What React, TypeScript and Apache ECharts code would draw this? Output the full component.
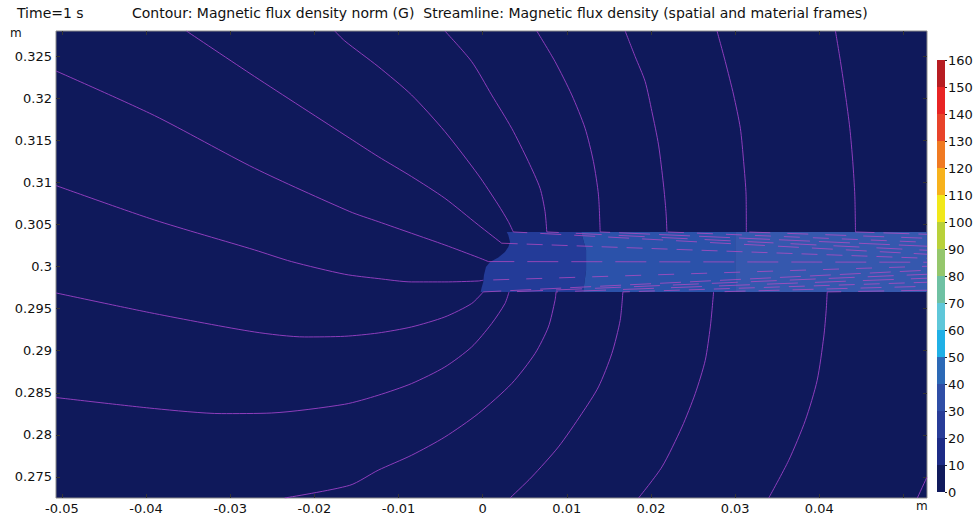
import React, { useEffect, useRef } from 'react';
import * as echarts from 'echarts';

// ---- axes ----
const X_MIN = -0.0507;
const X_MAX = 0.0528;
const Y_MIN = 0.2725;
const Y_MAX = 0.328;
const X_TICKS = [-0.05, -0.04, -0.03, -0.02, -0.01, 0, 0.01, 0.02, 0.03, 0.04, 0.05];
const X_TICK_LABELS = ['-0.05', '-0.04', '-0.03', '-0.02', '-0.01', '0', '0.01', '0.02', '0.03', '0.04', ''];
const Y_TICKS = [0.275, 0.28, 0.285, 0.29, 0.295, 0.3, 0.305, 0.31, 0.315, 0.32, 0.325];
const Y_TICK_LABELS = ['0.275', '0.28', '0.285', '0.29', '0.295', '0.3', '0.305', '0.31', '0.315', '0.32', '0.325'];

// ---- colour levels (G) ----
const LEVEL_BOUNDS = [0, 10, 20, 30, 40, 50, 60, 70, 80, 90, 100, 110, 120, 130, 140, 150, 160];
const LEVEL_COLORS = [
  '#101a5c', '#1d2b86', '#283c98', '#2f4ea6', '#2c69b6', '#20b0e6', '#5fc7d9', '#6fc1a3',
  '#95c76c', '#b9d13a', '#f1e81a', '#f7b21c', '#f07a22', '#e8432a', '#e82424', '#b71d22',
];

// ---- filled contour regions inside the bar (m) ----
const BAR_BOTTOM = 0.29699;
const BAR_TOP = 0.30412;
const TIP_OUTLINE = [
  [0.00286, 0.30412], [0.00305, 0.30373], [0.00325, 0.30293], [0.00305, 0.30234], [0.00265, 0.30174],
  [0.00186, 0.30108], [0.00087, 0.30055], [0.00039, 0.29996], [0.00015, 0.29897], [0.00007, 0.29818],
  [-0.00012, 0.29751], [-0.00024, 0.29699],
];
const BOUNDARY_AB = [[0.0117, 0.30412], [0.01229, 0.30194], [0.01229, 0.29957], [0.01194, 0.29699]];
const BOUNDARY_BC = [[0.03, 0.30412], [0.03, 0.29699]];
const BAR_END = [[0.0528, 0.29699], [0.0528, 0.30412]];
const REGION_COLORS = ['#233b98', '#2b52aa', '#3558ae'];

// ---- streamlines (m) ----
const LINE_A = [[-0.0352, 0.328], [-0.0271, 0.32259], [-0.01579, 0.31525], [-0.01242, 0.31308], [-0.00845, 0.3107], [-0.00449, 0.30812], [-0.00052, 0.30495], [0.00226, 0.30278], [0.0528, 0.30099]];
const LINE_B = [[-0.01758, 0.328], [-0.01639, 0.32682], [-0.01242, 0.32378], [-0.00845, 0.3204], [-0.00449, 0.31605], [-0.00052, 0.31089], [0.00186, 0.30733], [0.00305, 0.30535], [0.00364, 0.30412], [0.0528, 0.30147]];
const LINE_C = [[-0.00449, 0.328], [-0.00131, 0.32437], [0.00107, 0.3204], [0.00345, 0.31644], [0.00543, 0.31249], [0.00682, 0.30931], [0.00741, 0.30654], [0.00762, 0.30412], [0.0528, 0.30194]];
const LINE_D = [[0.00643, 0.328], [0.0086, 0.32437], [0.01059, 0.3204], [0.01217, 0.31644], [0.01316, 0.31249], [0.01376, 0.30852], [0.01396, 0.30412], [0.0528, 0.30242]];
const LINE_E = [[0.01693, 0.328], [0.01812, 0.32496], [0.01931, 0.32199], [0.02011, 0.31843], [0.0209, 0.31446], [0.02149, 0.3097], [0.02178, 0.30654], [0.0219, 0.30412], [0.0528, 0.30289]];
const LINE_F = [[0.02785, 0.328], [0.02883, 0.32437], [0.02982, 0.3204], [0.03062, 0.31644], [0.03101, 0.31249], [0.0313, 0.30852], [0.03133, 0.30412], [0.0528, 0.30337]];
const LINE_G = [[0.04192, 0.328], [0.04252, 0.32437], [0.04311, 0.3204], [0.04363, 0.31644], [0.04398, 0.31249], [0.04422, 0.30852], [0.0443, 0.30412], [0.0528, 0.30384]];
const LINE_H = [[-0.0507, 0.32325], [-0.039, 0.31795], [-0.0271, 0.31169], [-0.01579, 0.30654], [-0.01242, 0.30535], [-0.00845, 0.30396], [-0.00449, 0.30257], [-0.00052, 0.30108], [0.00067, 0.3006], [0.0528, 0.30052]];
const LINE_I = [[-0.0507, 0.30963], [-0.039, 0.30554], [-0.0271, 0.30198], [-0.02273, 0.3006], [-0.01639, 0.29909], [-0.01242, 0.29858], [-0.00845, 0.29818], [-0.00449, 0.29818], [-0.00052, 0.29829], [0.00007, 0.29838], [0.0528, 0.30004]];
const LINE_J = [[-0.0507, 0.29687], [-0.039, 0.29442], [-0.0271, 0.29223], [-0.02115, 0.29164], [-0.01639, 0.29172], [-0.01242, 0.29211], [-0.00845, 0.29283], [-0.00449, 0.29402], [-0.00131, 0.29561], [0.00007, 0.29699], [0.0528, 0.29957]];
const LINE_K = [[-0.0507, 0.28444], [-0.039, 0.28313], [-0.03106, 0.28253], [-0.02511, 0.2826], [-0.01639, 0.28364], [-0.01242, 0.28471], [-0.00845, 0.2861], [-0.00449, 0.28807], [-0.00131, 0.29045], [0.00107, 0.29323], [0.00265, 0.29561], [0.00313, 0.29699], [0.0528, 0.29909]];
const LINE_L = [[-0.02353, 0.2725], [-0.01579, 0.27401], [-0.01242, 0.2758], [-0.00845, 0.27758], [-0.00449, 0.27975], [-0.00052, 0.28253], [0.00345, 0.2861], [0.00622, 0.28967], [0.00781, 0.29283], [0.0086, 0.296], [0.00872, 0.29699], [0.0528, 0.29862]];
const LINE_M = [[0.00325, 0.2725], [0.00583, 0.275], [0.009, 0.27857], [0.01178, 0.28253], [0.01376, 0.2857], [0.01535, 0.28967], [0.01634, 0.29362], [0.01666, 0.29699], [0.0528, 0.29814]];
const LINE_N = [[0.01852, 0.2725], [0.0213, 0.27619], [0.02368, 0.28094], [0.02526, 0.28491], [0.02645, 0.28887], [0.02705, 0.29283], [0.02725, 0.29481], [0.02744, 0.29699], [0.0528, 0.29766]];
const LINE_O = [[0.03399, 0.2725], [0.03637, 0.27698], [0.03835, 0.28174], [0.03975, 0.28649], [0.04053, 0.29164], [0.04082, 0.29481], [0.04094, 0.29699], [0.0528, 0.29719]];
const LINE_P = [[0.05165, 0.2725], [0.0528, 0.275]];
const STREAMLINES = [LINE_A, LINE_B, LINE_C, LINE_D, LINE_E, LINE_F, LINE_G, LINE_H, LINE_I, LINE_J, LINE_K, LINE_L, LINE_M, LINE_N, LINE_O, LINE_P];

const FONT = 'DejaVu Sans';
const TEXT_COLOR = '#111111';
const BG = '#0f195b';
const LINE_COLOR = '#9c42c6';
const INNER_LINE_COLOR = '#c04cc4';

function labelFor(ticks: number[], labels: string[], v: number) {
  for (let i = 0; i < ticks.length; i++) if (Math.abs(ticks[i] - v) < 1e-7) return labels[i];
  return '';
}

export default function App() {
  const ref = useRef<HTMLDivElement>(null);
  useEffect(() => {
    if (!ref.current) return;
    const chart = echarts.init(ref.current, undefined, { renderer: 'svg' });

    const regionA = [...TIP_OUTLINE, ...BOUNDARY_AB.slice().reverse()];
    const regionB = [...BOUNDARY_AB, ...BOUNDARY_BC.slice().reverse()];
    const regionC = [...BOUNDARY_BC, ...BAR_END];
    const regions = [regionA, regionB, regionC];

    // split each streamline into the part in air and the part inside the bar
    const outer: number[][][] = [];
    const inner: number[][][] = [];
    STREAMLINES.forEach((pts) => {
      const last = pts[pts.length - 1];
      const insideEnd = last[1] >= BAR_BOTTOM - 1e-6 && last[1] <= BAR_TOP + 1e-6 && pts.length > 2;
      if (insideEnd) {
        outer.push(pts.slice(0, pts.length - 1));
        inner.push(pts.slice(pts.length - 2));
      } else {
        outer.push(pts);
      }
    });

    const axisTickStyle = { inside: true, length: 4, lineStyle: { color: '#333', width: 1 } };
    const titleStyle = { fontFamily: FONT, fontSize: 14, fontWeight: 'normal', color: TEXT_COLOR };

    const option: any = {
      animation: false,
      backgroundColor: '#ffffff',
      textStyle: { fontFamily: FONT },
      title: [
        { text: 'Time=1 s', left: 12, top: 1, textStyle: titleStyle },
        {
          text: 'Contour: Magnetic flux density norm (G)  Streamline: Magnetic flux density (spatial and material frames)',
          left: 127, top: 1, textStyle: titleStyle,
        },
      ],
      grid: [
        { left: 56, right: 48, top: 31, bottom: 18, show: true, backgroundColor: BG, borderColor: '#8a8a8a', borderWidth: 1, outerBoundsMode: 'none' },
        { left: 937, width: 8, top: 60, height: 432, outerBoundsMode: 'none' },
      ],
      xAxis: [
        {
          type: 'value', gridIndex: 0, position: 'bottom', min: X_MIN, max: X_MAX,
          axisLine: { show: false, onZero: false }, splitLine: { show: false },
          axisTick: { ...axisTickStyle, customValues: X_TICKS },
          axisLabel: {
            customValues: X_TICKS, margin: 4, fontSize: 13, color: TEXT_COLOR, fontFamily: FONT,
            formatter: (v: number) => labelFor(X_TICKS, X_TICK_LABELS, v),
          },
        },
        {
          type: 'value', gridIndex: 0, position: 'top', min: X_MIN, max: X_MAX,
          axisLine: { show: false, onZero: false }, splitLine: { show: false },
          axisTick: { ...axisTickStyle, customValues: X_TICKS },
          axisLabel: { show: false },
        },
        { type: 'category', gridIndex: 1, data: [''], show: false },
      ],
      yAxis: [
        {
          type: 'value', gridIndex: 0, position: 'left', min: Y_MIN, max: Y_MAX,
          axisLine: { show: false, onZero: false }, splitLine: { show: false },
          axisTick: { ...axisTickStyle, customValues: Y_TICKS },
          axisLabel: {
            customValues: Y_TICKS, margin: 4, fontSize: 13, color: TEXT_COLOR, fontFamily: FONT,
            formatter: (v: number) => labelFor(Y_TICKS, Y_TICK_LABELS, v),
          },
        },
        {
          type: 'value', gridIndex: 0, position: 'right', min: Y_MIN, max: Y_MAX,
          axisLine: { show: false, onZero: false }, splitLine: { show: false },
          axisTick: { ...axisTickStyle, customValues: Y_TICKS },
          axisLabel: { show: false },
        },
        {
          type: 'value', gridIndex: 1, position: 'right', min: 0, max: 160, interval: 10,
          axisLine: { show: false, onZero: false }, splitLine: { show: false },
          axisTick: { show: true, length: 2, lineStyle: { color: '#222' } },
          axisLabel: { margin: 3, fontSize: 13, color: TEXT_COLOR, fontFamily: FONT },
        },
      ],
      series: [
        {
          type: 'custom', xAxisIndex: 0, yAxisIndex: 0, z: 2, silent: true,
          data: regions.map((r) => r[0]),
          renderItem: (params: any, api: any) => {
            const pts = regions[params.dataIndex].map((p) => api.coord(p));
            return { type: 'polygon', shape: { points: pts }, style: { fill: REGION_COLORS[params.dataIndex] } };
          },
        },
        ...outer.map((pts) => ({
          type: 'line', xAxisIndex: 0, yAxisIndex: 0, data: pts, showSymbol: false, symbol: 'none',
          smooth: 0.25, clip: true, silent: true, z: 3,
          lineStyle: { color: LINE_COLOR, width: 0.9 },
        })),
        ...inner.map((pts, i) => ({
          type: 'line', xAxisIndex: 0, yAxisIndex: 0, data: pts, showSymbol: false, symbol: 'none',
          clip: true, silent: true, z: 3,
          lineStyle: { color: INNER_LINE_COLOR, width: 1, opacity: 0.7, type: [16 + (i % 4) * 5, 9 + (i % 3) * 4], dashOffset: i * 7 },
        })),
        ...LEVEL_COLORS.map((c, i) => ({
          type: 'bar', xAxisIndex: 2, yAxisIndex: 2, stack: 'colorbar', silent: true,
          data: [LEVEL_BOUNDS[i + 1] - LEVEL_BOUNDS[i]], barWidth: '100%', itemStyle: { color: c },
        })),
      ],
      graphic: [
        { type: 'text', left: 10, top: 27, style: { text: 'm', font: `12px "${FONT}"`, fill: TEXT_COLOR } },
        { type: 'text', left: 916, top: 500, style: { text: 'm', font: `12px "${FONT}"`, fill: TEXT_COLOR } },
      ],
    };
    chart.setOption(option);
    return () => chart.dispose();
  }, []);
  return <div ref={ref} style={{ position: 'absolute', left: 0, top: 0, width: 975, height: 516 }} />;
}
